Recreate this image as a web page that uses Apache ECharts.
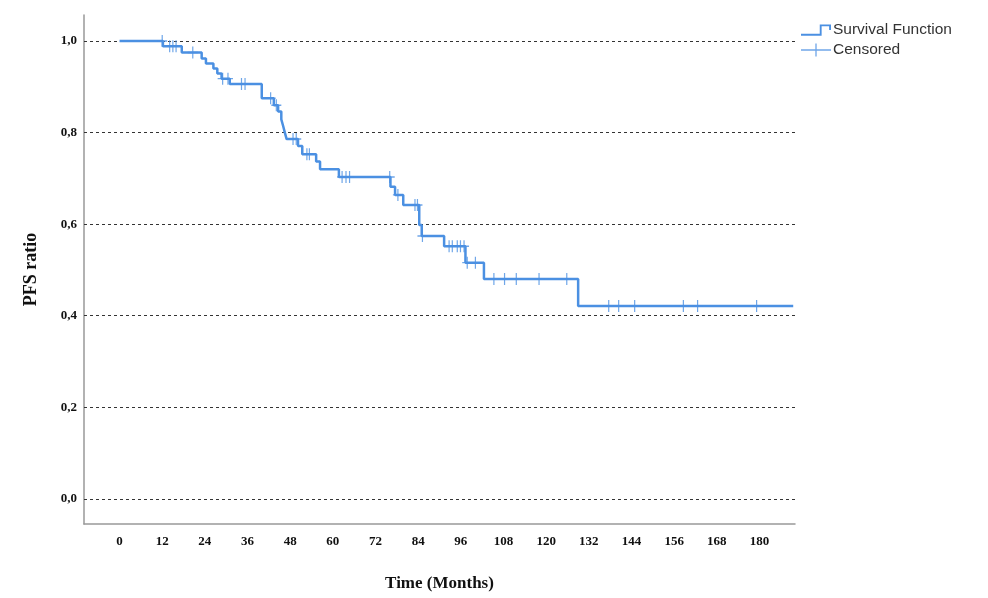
<!DOCTYPE html>
<html>
<head>
<meta charset="utf-8">
<script src="https://cdn.jsdelivr.net/npm/echarts@6/dist/echarts.min.js"></script>
<style>html,body{margin:0;padding:0;background:#fff}#c{width:988px;height:598px}</style>
</head>
<body>
<div id="c"></div>
<script>
// Kaplan-Meier step points: time (months) and survival after step
const eventTimes = [0, 12.2, 17.5, 23.1, 24.3, 26.4, 27.5, 28.7, 31.0, 40.0, 43.4, 44.6, 45.5, 46.0, 46.5, 47.0, 50.2, 51.4, 55.3, 56.4, 61.7, 76.2, 77.5, 79.8, 84.3, 85.0, 91.3, 97.3, 102.5, 129.0, 189.5];
const survival   = [1.0, 0.989, 0.975, 0.962, 0.951, 0.940, 0.929, 0.918, 0.906, 0.875, 0.860, 0.846, 0.829, 0.815, 0.800, 0.786, 0.771, 0.753, 0.737, 0.720, 0.703, 0.682, 0.664, 0.642, 0.598, 0.574, 0.552, 0.516, 0.480, 0.421, 0.421];
// Censored observations
const censorTimes = [12.0, 14.1, 15.0, 15.9, 20.6, 29.0, 30.5, 34.3, 35.3, 42.5, 44.1, 48.8, 49.7, 52.7, 53.4, 62.6, 63.7, 64.7, 76.0, 78.3, 83.1, 83.8, 85.2, 92.7, 93.6, 95.0, 95.9, 96.9, 97.8, 100.1, 105.3, 108.3, 111.6, 118.0, 125.8, 137.6, 140.4, 144.9, 158.6, 162.6, 179.2];
const censorSurv  = [1.0, 0.989, 0.989, 0.989, 0.975, 0.918, 0.918, 0.906, 0.906, 0.875, 0.860, 0.786, 0.786, 0.753, 0.753, 0.703, 0.703, 0.703, 0.703, 0.664, 0.642, 0.642, 0.574, 0.552, 0.552, 0.552, 0.552, 0.552, 0.516, 0.516, 0.480, 0.480, 0.480, 0.480, 0.480, 0.421, 0.421, 0.421, 0.421, 0.421, 0.421];
// Tick labels
const xTicks = [0, 12, 24, 36, 48, 60, 72, 84, 96, 108, 120, 132, 144, 156, 168, 180];
const yTicks = [0, 0.2, 0.4, 0.6, 0.8, 1.0];

const blue = '#4b90e2';
const chart = echarts.init(document.getElementById('c'), null, {renderer: 'canvas'});
const serif = '"Liberation Serif", "Times New Roman", serif';
const plusPath = 'path://M4.4,0h1.2v10h-1.2z M0,4.4h10v1.2h-10z';

chart.setOption({
  animation: false,
  backgroundColor: '#fff',
  grid: {left: 84, top: 15, right: 193, bottom: 74, containLabel: false},
  legend: {
    orient: 'vertical', left: 796, top: 17, itemGap: 4,
    itemWidth: 30, itemHeight: 14,
    textStyle: {fontFamily: '"Liberation Sans", Arial, sans-serif', fontSize: 15.5, color: '#333', padding: [0,0,0,-3]},
    data: [
      {name: 'Survival Function', icon: 'path://M0,10h20v-10h12v6h-2v-4h-8v10h-22z', itemStyle: {color: blue}},
      {name: 'Censored', icon: 'path://M0,6.3h32v1.4h-32z M15.3,0h1.4v14h-1.4z', itemStyle: {color: blue}}
    ]
  },
  xAxis: {
    type: 'value', min: -10, max: 190,
    axisLine: {show: true, onZero: false, lineStyle: {color: '#999', width: 1.5}},
    axisTick: {show: false},
    splitLine: {show: false},
    axisLabel: {customValues: xTicks, margin: 11, fontFamily: serif, fontWeight: 'bold', fontSize: 13, color: '#111'},
    name: 'Time (Months)', nameLocation: 'middle', nameGap: 51,
    nameTextStyle: {fontFamily: serif, fontWeight: 'bold', fontSize: 17, color: '#111'}
  },
  yAxis: {
    type: 'value', min: -0.055, max: 1.057,
    axisLine: {show: true, onZero: false, lineStyle: {color: '#999', width: 1.5}},
    axisTick: {show: false},
    splitLine: {show: false},
    axisLabel: {customValues: yTicks, margin: 7, fontFamily: serif, fontWeight: 'bold', fontSize: 13, color: '#111',
      formatter: v => v.toFixed(1).replace('.', ',')},
    name: 'PFS ratio', nameLocation: 'middle', nameGap: 44, nameRotate: 90,
    nameTextStyle: {fontFamily: serif, fontWeight: 'bold', fontSize: 18, color: '#111'}
  },
  series: [
    {
      name: 'Survival Function', type: 'line', step: 'end',
      data: eventTimes.map((t, i) => [t, survival[i]]),
      symbol: 'none', lineStyle: {color: blue, width: 2.5}, itemStyle: {color: blue},
      z: 3,
      markLine: {
        silent: true, symbol: 'none', label: {show: false},
        lineStyle: {color: '#333', type: [3, 3], width: 1},
        data: yTicks.map(v => ({yAxis: v})),
        z: 1
      }
    },
    {
      name: 'Censored', type: 'scatter',
      data: censorTimes.map((t, i) => [t, censorSurv[i]]),
      symbol: plusPath, symbolSize: [10, 12], itemStyle: {color: blue}, z: 4
    }
  ]
});
</script>
</body>
</html>
